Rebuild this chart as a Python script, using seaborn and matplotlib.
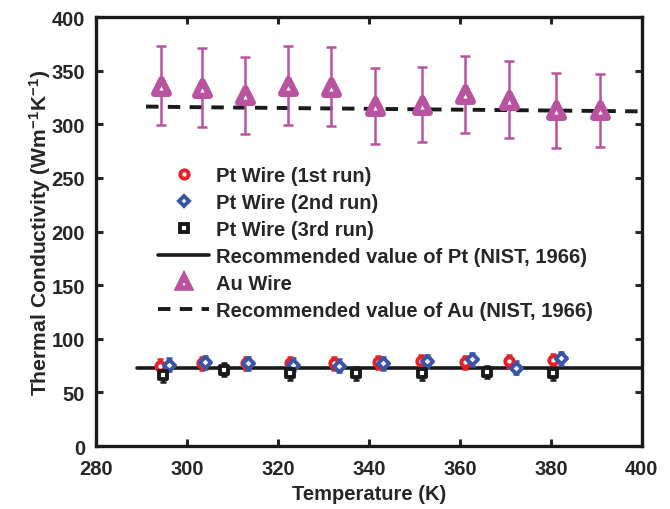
import matplotlib
matplotlib.use("Agg")
import matplotlib.pyplot as plt
from matplotlib.lines import Line2D
import seaborn as sns
import pandas as pd

# Pt wire, three runs
pt1_T = [294.0, 303.4, 313.0, 322.6, 332.3, 341.9, 351.5, 361.1, 370.8, 380.4]
pt1_k = [75, 77, 77, 77, 77, 78, 79, 78, 79, 80]
pt1_err = [6, 6, 6, 6, 6, 6, 6, 6, 6, 6]

pt2_T = [296.0, 303.9, 313.4, 323.4, 333.4, 343.0, 352.7, 362.7, 372.3, 382.3]
pt2_k = [76, 78, 77, 76, 75, 77, 79, 81, 73, 82]
pt2_err = [6, 6, 6, 6, 6, 6, 6, 6, 6, 6]

pt3_T = [294.7, 308.2, 322.7, 337.1, 351.6, 366.0, 380.4]
pt3_k = [66, 71, 68, 68, 68, 69, 68]
pt3_err = [6, 6, 6, 6, 6, 6, 6]

# Au wire
au_T = [294.2, 303.2, 312.7, 322.2, 331.7, 341.3, 351.7, 361.2, 370.8, 381.2, 390.7]
au_k = [336, 334, 327, 336, 335, 317, 318, 328, 323, 313, 313]
au_err = [37, 37, 36, 37, 37, 35, 35, 36, 36, 35, 34]

# NIST (1966) recommended values
nist_pt_T = [289, 300, 350, 400]
nist_pt_k = [72.5, 72.5, 72.5, 72.5]
nist_au_T = [291, 300, 350, 400]
nist_au_k = [316.5, 316, 314, 312]

x_ticks = [280, 300, 320, 340, 360, 380, 400]
y_ticks = [0, 50, 100, 150, 200, 250, 300, 350, 400]

sns.set_style("ticks")
plt.rcParams["font.family"] = ["Liberation Sans", "DejaVu Sans"]
plt.rcParams["font.weight"] = "bold"
plt.rcParams["mathtext.fontset"] = "custom"
plt.rcParams["mathtext.rm"] = "Liberation Sans:bold"
plt.rcParams["mathtext.it"] = "Liberation Sans:bold"
plt.rcParams["mathtext.bf"] = "Liberation Sans:bold"

FS = 14.5
RED = "#e8202a"
BLUE = "#3a55a8"
BLACK = "#1a1a1a"
MAGENTA = "#b9529f"

fig = plt.figure(figsize=(6.7, 5.1), dpi=100)
ax = fig.add_axes([0.1433, 0.1235, 0.8147, 0.8412])

# Recommended-value curves
sns.lineplot(data=pd.DataFrame({"T": nist_pt_T, "k": nist_pt_k}), x="T", y="k",
             ax=ax, color=BLACK, lw=2.6, zorder=2)
sns.lineplot(data=pd.DataFrame({"T": nist_au_T, "k": nist_au_k}), x="T", y="k",
             ax=ax, color=BLACK, lw=2.8, linestyle=(0, (3.2, 2.4)), zorder=2)

# Measured points with error bars
ax.errorbar(au_T, au_k, yerr=au_err, fmt="none", ecolor=MAGENTA, elinewidth=1.8,
            capsize=3.3, capthick=1.8, zorder=3)
ax.errorbar(pt1_T, pt1_k, yerr=pt1_err, fmt="none", ecolor=RED, elinewidth=1.8,
            capsize=2.3, capthick=1.8, zorder=3)
ax.errorbar(pt2_T, pt2_k, yerr=pt2_err, fmt="none", ecolor=BLUE, elinewidth=1.8,
            capsize=2.3, capthick=1.8, zorder=3)
ax.errorbar(pt3_T, pt3_k, yerr=pt3_err, fmt="none", ecolor=BLACK, elinewidth=1.8,
            capsize=2.3, capthick=1.8, zorder=3)

sns.scatterplot(x=au_T, y=au_k, ax=ax, marker="^", s=110, color="white",
                edgecolor=MAGENTA, linewidth=4.6, zorder=4)
sns.scatterplot(x=pt1_T, y=pt1_k, ax=ax, marker="o", s=36, color="white",
                edgecolor=RED, linewidth=2.8, zorder=4)
sns.scatterplot(x=pt2_T, y=pt2_k, ax=ax, marker="D", s=32, color="white",
                edgecolor=BLUE, linewidth=2.8, zorder=4)
sns.scatterplot(x=pt3_T, y=pt3_k, ax=ax, marker="s", s=30, color="white",
                edgecolor=BLACK, linewidth=2.8, zorder=4)

ax.set_xlim(280, 400)
ax.set_ylim(0, 400)
ax.set_xticks(x_ticks)
ax.set_yticks(y_ticks)
ax.set_xticklabels([str(t) for t in x_ticks], fontsize=FS, fontweight="bold")
ax.set_yticklabels([str(t) for t in y_ticks], fontsize=FS, fontweight="bold")
ax.tick_params(direction="in", length=5, width=2.2, top=True, right=True)
ax.tick_params(axis="x", pad=9)
ax.tick_params(axis="y", pad=8)
for sp in ax.spines.values():
    sp.set_visible(True)
    sp.set_linewidth(2.4)
    sp.set_color(BLACK)

ax.set_xlabel("Temperature (K)", fontsize=FS, fontweight="bold", labelpad=5)
ax.set_ylabel("Thermal Conductivity (Wm$^{-1}$K$^{-1}$)", fontsize=15.2,
              fontweight="bold", labelpad=-1)

handles = [
    Line2D([], [], ls="none", marker="o", ms=6, mfc="white", mec=RED, mew=2.8),
    Line2D([], [], ls="none", marker="D", ms=5.5, mfc="white", mec=BLUE, mew=2.8),
    Line2D([], [], ls="none", marker="s", ms=5.5, mfc="white", mec=BLACK, mew=2.8),
    Line2D([], [], color=BLACK, lw=2.6),
    Line2D([], [], ls="none", marker="^", ms=8, mfc="white", mec=MAGENTA, mew=4),
    Line2D([], [], color=BLACK, lw=2.8, ls=(0, (3.2, 2.4))),
]
labels = [
    "Pt Wire (1st run)",
    "Pt Wire (2nd run)",
    "Pt Wire (3rd run)",
    "Recommended value of Pt (NIST, 1966)",
    "Au Wire",
    "Recommended value of Au (NIST, 1966)",
]
leg = ax.legend(handles, labels, loc="upper left", bbox_to_anchor=(0.081, 0.695),
                frameon=False, handlelength=2.5, handletextpad=0.35,
                labelspacing=0.4, prop={"size": FS, "weight": "bold"})

fig.savefig("out.png", dpi=100)
